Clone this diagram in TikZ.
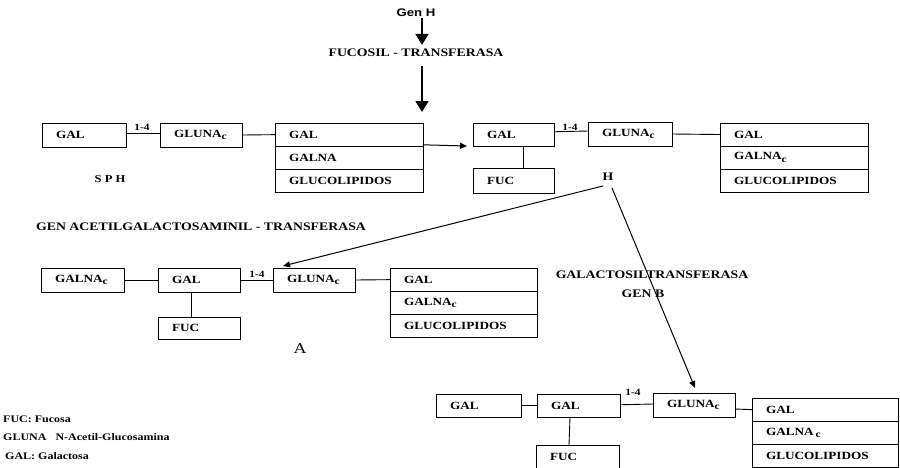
\documentclass[tikz,border=0pt]{standalone}
\usepackage{fontspec}
\setmainfont{Liberation Serif}
\newfontfamily\scanfont[FakeStretch=1.2]{Liberation Serif}
\newfontfamily\scansans[FakeStretch=1.2]{Liberation Sans}
\usetikzlibrary{arrows.meta}
\newcommand{\bxfont}{\scanfont\bfseries\fontsize{11}{12}\selectfont}
\newcommand{\subcc}{\raisebox{-2.5pt}{\fontsize{9.5}{9.5}\selectfont c}}
\begin{document}
\begin{tikzpicture}[x=1pt,y=-1pt,
  bx/.style={draw, line width=0.9pt, outer sep=0pt, anchor=north west, inner xsep=14pt, inner ysep=0pt, align=left, font=\bxfont},
  ln/.style={line width=0.9pt},
  lab/.style={font=\scanfont\bfseries\fontsize{11.5}{13}\selectfont, inner sep=0pt},
  small/.style={font=\scanfont\bfseries\fontsize{9.5}{10}\selectfont, inner sep=0pt},
  leg/.style={font=\scanfont\bfseries\fontsize{10}{11}\selectfont, inner sep=0pt, anchor=west},
  bigarrow/.style={line width=1.5pt, -{Triangle[length=11pt,width=13pt]}},
  smallarrow/.style={line width=1pt, -{Triangle[length=7pt,width=6pt]}},
]
\useasboundingbox (0,0) rectangle (900,467);

% ---------- top ----------
\node[font=\scansans\bfseries\fontsize{11}{12}\selectfont, inner sep=0pt] (genH) at (416,13) {Gen H};
\node[lab] (fuco) at (416,53) {FUCOSIL - TRANSFERASA};

% ---------- row 1, left group ----------
\node[bx, text width=56pt, minimum height=24pt] (g1) at (42,123) {GAL};
\node[bx, text width=54pt, minimum height=24pt] (n1) at (160,123) {GLUNA\subcc};
\node[bx, text width=120pt, minimum height=23.3pt] (b1a) at (275,123) {GAL};
\node[bx, text width=120pt, minimum height=23.3pt] (b1b) at (b1a.south west) {GALNA};
\node[bx, text width=120pt, minimum height=23.3pt] (b1c) at (b1b.south west) {GLUCOLIPIDOS};
\node[small] (l1) at (142,127) {1-4};
\node[lab, font=\scanfont\bfseries\fontsize{10.5}{12}\selectfont] (sph) at (110,179) {S P H};

\draw[bigarrow] ([xshift=6pt,yshift=-1pt]genH.south) -- ([xshift=6pt,yshift=4pt]fuco.north);
\draw[bigarrow] ([xshift=6pt,yshift=-9pt]fuco.south) -- ([xshift=-1pt,yshift=11pt]b1a.north east);

\draw[ln] ([yshift=2pt]g1.east) -- ([yshift=2pt]n1.west);
\draw[ln] (n1.east) -- (b1a.west);

% ---------- row 1, right group ----------
\node[bx, text width=53pt, minimum height=23.5pt] (g2) at (473,123) {GAL};
\node[bx, text width=56pt, minimum height=24pt] (n2) at (588,122) {GLUNA\subcc};
\node[bx, text width=120pt, minimum height=23pt] (b2a) at (720,123) {GAL};
\node[bx, text width=120pt, minimum height=23pt] (b2b) at (b2a.south west) {GALNA\subcc};
\node[bx, text width=120pt, minimum height=23pt] (b2c) at (b2b.south west) {GLUCOLIPIDOS};
\node[bx, text width=53pt, minimum height=25pt] (f2) at (473,168) {FUC};
\node[small] (l2) at (570,127) {1-4};
\node[lab] (hh) at (608,177) {H};

\coordinate (a2end) at (467,146);
\draw[smallarrow] ([yshift=1.5pt]b1a.south east) -- (a2end);
\draw[ln] ([yshift=3pt]g2.east) -- ([yshift=3pt]n2.west);
\draw[ln] (n2.east) -- (b2a.west);
\draw[ln] ([xshift=9.5pt]g2.south) -- ([xshift=9.5pt]f2.north);

% ---------- labels middle ----------
\node[lab] (acet) at (201,227) {GEN ACETILGALACTOSAMINIL - TRANSFERASA};
\node[lab] (galt) at (652,275) {GALACTOSILTRANSFERASA};
\node[lab] (genb) at (643,294) {GEN B};

% ---------- row 2 ----------
\node[bx, text width=55pt, minimum height=24pt] (ga3) at (41,268) {GALNA\subcc};
\node[bx, text width=54pt, minimum height=24pt] (g3) at (158,268) {GAL};
\node[bx, text width=54pt, minimum height=24pt] (n3) at (273,268) {GLUNA\subcc};
\node[bx, text width=119pt, minimum height=23.3pt] (b3a) at (390,268) {GAL};
\node[bx, text width=119pt, minimum height=23.3pt] (b3b) at (b3a.south west) {GALNA\subcc};
\node[bx, text width=119pt, minimum height=23.3pt] (b3c) at (b3b.south west) {GLUCOLIPIDOS};
\node[bx, text width=54pt, minimum height=22pt] (f3) at (158,317) {FUC};
\node[small] (l3) at (257,274) {1-4};
\node[font=\scanfont\fontsize{15}{16}\selectfont, inner sep=0pt] (aa) at (300,349) {A};

\draw[ln] (ga3.east) -- (g3.west);
\draw[ln] (g3.east) -- (n3.west);
\draw[ln] (n3.east) -- (b3a.west);
\draw[ln] ([xshift=-8pt]g3.south) -- ([xshift=-8pt]f3.north);

% ---------- row 3 ----------
\node[bx, text width=57pt, minimum height=23.5pt] (g4a) at (436,394) {GAL};
\node[bx, text width=55pt, minimum height=23.5pt] (g4b) at (537,394) {GAL};
\node[bx, text width=54pt, minimum height=24pt] (n4) at (653,393) {GLUNA\subcc};
\node[bx, text width=118pt, minimum height=23.3pt] (b4a) at (752,398) {GAL};
\node[bx, text width=118pt, minimum height=23.3pt] (b4b) at (b4a.south west) {GALNA\,\subcc};
\node[bx, text width=118pt, minimum height=23.3pt] (b4c) at (b4b.south west) {GLUCOLIPIDOS};
\node[bx, text width=55pt, minimum height=23pt] (f4) at (536,445) {FUC};
\node[small] (l4) at (633,392) {1-4};

\draw[ln] (g4a.east) -- (g4b.west);
\draw[ln] ([yshift=1pt]g4b.east) -- ([yshift=1pt]n4.west);
\draw[ln] ([yshift=-4pt]n4.east) -- (b4a.west);
\draw[ln] ([xshift=-8.5pt]g4b.south) -- ([xshift=-8.5pt]f4.north);

% ---------- diagonal arrows from H ----------
\draw[smallarrow] ([xshift=-5pt,yshift=-5pt]hh.south) -- ([xshift=10pt,yshift=2pt]n3.north west);
\draw[smallarrow] ([xshift=4pt,yshift=-7pt]hh.south) -- ([xshift=1pt,yshift=5pt]n4.north);

% ---------- legend ----------
\node[leg] (lg1) at (3,419) {FUC: Fucosa};
\node[leg] (lg2) at (3,437) {GLUNA\ \ \ N-Acetil-Glucosamina};
\node[leg] (lg3) at (5,456) {GAL: Galactosa};
\end{tikzpicture}
\end{document}
